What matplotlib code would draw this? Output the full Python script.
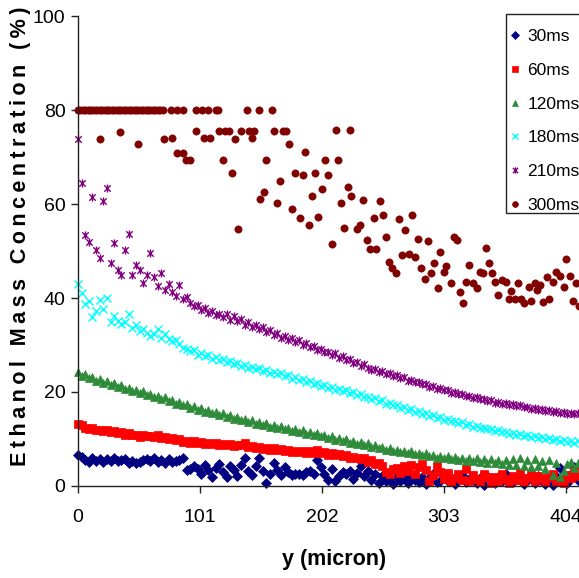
import matplotlib
matplotlib.use('Agg')
import matplotlib.pyplot as plt
import numpy as np
from matplotlib.path import Path
from matplotlib.lines import Line2D
from matplotlib.patches import Rectangle
from matplotlib import font_manager

# x positions (micron) for the dense profiles, one value every 3 micron
y_pos = np.arange(0, 415, 3)

c30 = [6.5, 6.2, 5.4, 5.0, 5.8, 5.2, 5.6, 5.0, 5.7, 5.3,
       5.8, 5.2, 5.5, 5.6, 4.9, 5.3, 4.8, 5.0, 5.4, 5.6,
       5.2, 5.8, 5.1, 5.5, 4.8, 5.6, 5.0, 5.2, 5.4, 5.9,
       3.3, 3.6, 4.2, 3.5, 2.5, 4.5, 3.4, 1.9, 3.8, 4.6,
       3.0, 1.9, 4.2, 3.4, 2.0, 4.4, 5.8, 3.1, 2.2, 4.3,
       5.9, 3.2, 0.6, 2.6, 4.8, 3.4, 2.2, 4.0, 2.9, 2.3,
       2.5, 2.6, 2.2, 3.0, 3.1, 2.4, 5.5, 4.0, 2.5, 1.2,
       3.6, 0.9, 2.0, 2.9, 2.6, 3.1, 1.4, 2.8, 4.2, 2.1,
       3.2, 1.2, 2.4, 0.5, 2.0, 1.1, 1.6, 0.4, 1.8, 0.9,
       1.7, 0.6, 2.2, 1.3, 0.8, 1.9, 0.4, 1.6, 2.4, 0.7,
       1.1, 2.0, 0.9, 1.5, 0.3, 1.8, 2.3, 0.8, 1.4, 2.1,
       0.6, 1.7, 0.2, 2.0, 1.2, 0.6, 1.9, 0.9, 2.4, 1.3,
       0.7, 1.5, 2.2, 0.3, 1.2, 1.8, 0.5, 2.0, 1.1, 0.4,
       1.6, 0.2, 2.1, 3.8, 1.4, 0.5, 2.6, 4.0, 1.2]

c60 = [13.1, 12.9, 12.4, 12.0, 12.2, 11.8, 11.9, 11.6, 11.9, 11.5,
       11.6, 11.2, 11.4, 10.9, 11.2, 10.7, 10.8, 10.4, 10.9, 10.5,
       10.6, 10.3, 10.7, 10.2, 10.4, 10.0, 10.2, 9.8, 9.9, 9.4,
       9.5, 9.2, 9.5, 9.1, 9.3, 8.9, 9.2, 8.8, 9.0, 8.6,
       8.9, 8.6, 8.8, 8.5, 8.7, 8.6, 9.2, 8.2, 8.4, 8.0,
       8.2, 7.9, 8.1, 7.7, 8.0, 7.6, 7.8, 7.5, 7.7, 7.2,
       7.5, 7.2, 7.4, 7.0, 7.3, 7.0, 7.6, 6.9, 7.1, 6.6,
       6.9, 6.5, 6.7, 6.3, 6.6, 6.0, 6.2, 5.8, 5.6, 5.9,
       5.0, 5.4, 4.6, 4.9, 4.2, 3.0, 2.5, 3.5, 3.8, 2.8,
       4.3, 3.2, 4.5, 2.6, 3.9, 4.6, 3.4, 1.0, 2.3, 4.1,
       3.0, 1.5, 2.8, 0.8, 1.6, 2.5, 1.2, 3.6, 0.9, 2.2,
       1.4, 0.7, 2.6, 1.8, 0.5, 1.9, 1.1, 2.4, 1.5, 0.6,
       2.0, 1.2, 2.7, 0.8, 1.6, 2.3, 1.0, 2.1, 1.7, 0.7,
       1.8, 2.4, 0.9, 1.3, 0.5, 2.2, 1.6, 3.2, 2.0]

c120 = [24.2, 23.4, 23.8, 22.9, 23.2, 22.4, 22.7, 21.9, 22.3, 21.5,
        21.8, 21.0, 21.4, 20.6, 20.9, 20.2, 20.5, 19.7, 20.1, 19.3,
        19.6, 18.9, 19.2, 18.4, 18.8, 18.0, 18.3, 17.5, 17.9, 17.1,
        17.4, 16.6, 16.9, 16.2, 16.6, 15.8, 16.1, 15.4, 15.8, 15.0,
        15.4, 14.7, 15.0, 14.3, 14.6, 13.9, 14.3, 13.6, 13.9, 13.2,
        13.6, 12.9, 13.3, 12.6, 13.0, 12.3, 12.7, 12.0, 12.4, 11.7,
        12.1, 11.4, 11.8, 11.1, 11.5, 10.8, 11.2, 10.5, 10.8, 10.1,
        10.5, 9.8, 10.2, 9.5, 9.9, 9.2, 9.6, 8.9, 9.3, 8.6,
        9.0, 8.3, 8.7, 8.0, 8.3, 7.6, 8.0, 7.4, 7.7, 7.1,
        7.5, 6.9, 7.3, 6.7, 7.0, 6.5, 6.9, 6.3, 6.6, 6.0,
        6.4, 5.9, 6.3, 5.6, 6.2, 5.4, 6.0, 5.3, 5.9, 5.2,
        5.8, 5.0, 5.7, 4.9, 5.6, 4.8, 5.5, 4.6, 5.4, 4.5,
        5.6, 4.4, 5.8, 4.3, 5.5, 3.9, 5.7, 4.2, 5.3, 3.6,
        5.4, 2.2, 4.8, 1.9, 3.2, 4.6, 5.1, 3.8, 4.9]

c180 = [43.0, 41.0, 38.7, 39.4, 36.0, 37.3, 39.5, 37.6, 40.1, 34.8,
        36.2, 35.0, 34.4, 34.8, 36.5, 33.7, 34.2, 33.0, 33.5, 32.6,
        31.9, 32.4, 33.3, 31.5, 32.3, 31.2, 30.8, 31.0, 30.1, 29.4,
        29.1, 28.7, 28.9, 27.9, 28.3, 27.6, 27.9, 27.1, 27.4, 26.7,
        26.9, 26.3, 26.6, 25.9, 26.2, 25.5, 25.7, 25.1, 25.4, 24.8,
        25.0, 24.4, 24.7, 24.0, 24.3, 23.7, 24.0, 23.3, 23.5, 22.8,
        23.1, 22.5, 22.7, 22.1, 22.3, 21.7, 21.9, 21.3, 21.5, 20.9,
        21.1, 20.5, 20.7, 20.1, 20.3, 19.7, 19.9, 19.3, 19.5, 18.9,
        19.0, 18.4, 18.6, 18.0, 18.2, 17.5, 17.7, 17.1, 17.2, 16.6,
        16.8, 16.2, 16.3, 15.7, 15.9, 15.3, 15.4, 14.9, 15.0, 14.5,
        14.6, 14.1, 14.2, 13.7, 13.8, 13.3, 13.5, 13.0, 13.1, 12.6,
        12.8, 12.3, 12.4, 12.0, 12.1, 11.7, 11.8, 11.4, 11.5, 11.1,
        11.3, 10.9, 11.0, 10.6, 10.8, 10.4, 10.5, 10.1, 10.3, 9.9,
        10.1, 9.7, 9.9, 9.5, 9.7, 9.3, 9.6, 9.2, 9.5]

c210 = [73.8, 64.5, 53.4, 52.0, 61.5, 50.2, 48.5, 60.6, 63.4, 47.5,
        51.7, 46.0, 44.9, 50.2, 53.6, 44.8, 47.0, 46.0, 43.3, 44.9,
        49.6, 44.4, 42.5, 45.3, 41.8, 42.9, 41.2, 40.4, 42.7, 39.8,
        40.2, 39.0, 38.3, 38.6, 37.4, 37.8, 36.8, 37.2, 36.3, 36.7,
        35.9, 36.6, 35.4, 36.1, 35.0, 35.6, 34.3, 34.9, 33.8, 34.2,
        33.3, 33.9, 32.8, 33.2, 32.1, 32.6, 31.5, 32.0, 31.0, 31.4,
        30.6, 31.0, 30.0, 30.4, 29.5, 29.8, 28.9, 29.2, 28.4, 28.6,
        27.9, 28.2, 27.3, 27.6, 26.7, 27.0, 26.2, 26.4, 25.6, 25.9,
        25.0, 24.6, 24.9, 24.2, 24.5, 23.7, 24.0, 23.3, 23.6, 22.9,
        23.1, 22.4, 22.6, 22.0, 22.2, 21.6, 21.7, 21.1, 21.3, 20.7,
        20.9, 20.3, 20.5, 19.8, 20.0, 19.5, 19.6, 19.1, 19.2, 18.7,
        18.9, 18.4, 18.5, 18.1, 18.2, 17.7, 17.9, 17.5, 17.6, 17.2,
        17.4, 17.0, 17.1, 16.7, 16.8, 16.4, 16.6, 16.2, 16.3, 15.9,
        16.1, 15.7, 15.9, 15.5, 15.7, 15.3, 15.5, 15.2, 15.4]

# 300ms: saturated at 80 near the wall, then scattered
x300 = [0, 2, 4, 6, 8, 10, 12, 14, 16, 18, 20, 22, 24, 26, 28, 30, 32, 34,
        36, 38, 40, 42, 44, 46, 48, 50, 52, 54, 56, 58, 60, 62, 64, 66, 68, 70,
        77, 82, 87, 98, 103, 108, 114, 116, 140, 150, 161,
        18, 34.8, 50, 71.5, 77.6, 82, 87, 89.4, 92.7, 98, 104, 109, 117, 120,
        122, 125, 127.5, 130, 132.7, 135, 141.5, 143.7, 146, 151, 154, 156,
        162, 164.6, 167, 170, 172, 174.6, 177, 180, 184, 186, 188, 191, 194,
        196, 199, 202, 204.5, 207, 210, 213.6, 215, 218, 220, 223.6, 225, 226,
        231, 233.5, 236, 239, 242, 245, 247, 250, 252.6, 255, 257.6, 260, 263,
        266, 268, 271, 274, 276.5, 279, 281.5, 284, 287.6, 290, 292.6, 295,
        298, 300, 303, 305, 309, 311, 313.6, 316, 319, 321.5, 324, 326.8, 330,
        333, 335, 338, 340, 343, 345.5, 348, 351, 354, 356.6, 358.8, 361.6,
        364, 366.5, 369, 373, 375, 378, 380, 382.5, 385, 388, 390, 393.6, 396,
        399, 402, 404, 407, 409.6, 412, 414.6]
c300 = [80] * 47 + [
        73.8, 75.4, 72.8, 73.8, 74.2, 71.0, 71.0, 69.4, 69.4, 75.7, 74.2, 74.2,
        75.7, 69.4, 75.7, 75.7, 66.6, 73.8, 54.8, 75.7, 75.7, 74.2, 75.7, 61.2,
        62.5, 69.4, 75.7, 60.3, 65.0, 75.7, 75.7, 72.8, 58.9, 66.6, 57.0, 66.2,
        71.2, 55.6, 61.7, 66.6, 57.3, 63.2, 69.4, 66.2, 51.5, 75.8, 69.4, 60.3,
        55.0, 63.7, 75.8, 61.8, 54.7, 55.6, 60.9, 52.4, 50.4, 57.0, 50.4, 60.7,
        57.7, 52.9, 47.7, 46.3, 45.3, 56.8, 49.2, 54.4, 49.4, 57.7, 48.8, 52.6,
        46.5, 44.1, 52.2, 45.3, 47.4, 42.1, 49.8, 45.6, 46.8, 43.1, 53.1, 52.4,
        41.3, 39.0, 43.5, 47.0, 43.3, 42.1, 45.6, 45.3, 50.6, 47.4, 45.3, 43.5,
        40.6, 43.8, 43.5, 39.7, 41.6, 39.7, 43.3, 39.7, 38.9, 42.4, 39.4, 43.3,
        41.7, 42.8, 39.1, 44.4, 39.7, 43.5, 45.6, 44.7, 42.4, 48.3, 44.7, 39.4,
        43.3, 38.3]

labels = ['30ms', '60ms', '120ms', '180ms', '210ms', '300ms']
xticks = [0, 101, 202, 303, 404]

names = {f.name for f in font_manager.fontManager.ttflist}
narrow = 'Liberation Sans Narrow' if 'Liberation Sans Narrow' in names else 'Liberation Sans'

# excel style star: an x with a vertical bar
star = Path([(-1, -1), (1, 1), (-1, 1), (1, -1), (0, -1.25), (0, 1.25)],
            [Path.MOVETO, Path.LINETO, Path.MOVETO, Path.LINETO, Path.MOVETO, Path.LINETO])

styles = [
    dict(marker='D', ms=4.6, mfc='#000080', mec='#000080', mew=0.5),
    dict(marker='s', ms=5.2, mfc='#ff0000', mec='#ff0000', mew=0.5),
    dict(marker='^', ms=5.6, mfc='#2e8b3a', mec='#2e8b3a', mew=0.5),
    dict(marker='x', ms=5.4, mfc='none', mec='#00ffff', mew=1.0),
    dict(marker=star, ms=5.8, mfc='none', mec='#800080', mew=1.0),
    dict(marker='o', ms=5.2, mfc='#800000', mec='#800000', mew=0.5),
]

fig = plt.figure(figsize=(5.79, 5.78), dpi=100)
ax = fig.add_axes([78 / 579, 92.3 / 578, 501 / 579, 469.2 / 578])

series = [(y_pos, c30), (y_pos, c60), (y_pos, c120), (y_pos, c180), (y_pos, c210), (x300, c300)]
for (xs, ys), st in zip(series, styles):
    ax.plot(xs, ys, linestyle='none', clip_on=False, **st)

ax.set_xlim(0, 414.8)
ax.set_ylim(0, 100)
ax.set_xticks(xticks)
ax.set_yticks([0, 20, 40, 60, 80, 100])
for s in ['top', 'right']:
    ax.spines[s].set_visible(False)
for s in ['left', 'bottom']:
    ax.spines[s].set_linewidth(1.0)
    ax.spines[s].set_color('#222222')
ax.tick_params(axis='both', direction='out', length=5, width=1, color='#222222')
ax.tick_params(axis='y', pad=4)
ax.tick_params(axis='x', pad=12)
for lab in ax.get_xticklabels() + ax.get_yticklabels():
    lab.set_fontfamily(narrow)
    lab.set_fontsize(14)

ylab = '\u2009'.join('Ethanol') + '\u2009\u2009 ' + '\u2009'.join('Mass') + '\u2009\u2009 ' + \
    '\u2009'.join('Concentration') + '\u2009\u2009 ' + '\u2009'.join('(%)')
fig.text(21 / 579, 1 - 236 / 578, ylab, rotation=90, ha='center', va='center',
         fontsize=15.6, fontweight='bold', family=['Liberation Sans', 'DejaVu Sans'])
fig.text(334 / 579, 1 - 560 / 578, 'y (micron)', ha='center', va='center',
         fontsize=15.5, fontweight='bold', family=narrow)

# legend box drawn by hand so that it can run off the right edge like the original
box = Rectangle((506 / 579, 1 - 213 / 578), 100 / 579, 199 / 578,
                transform=fig.transFigure, facecolor='white',
                edgecolor='#222222', linewidth=1.0, zorder=4, clip_on=False)
ax.add_patch(box)
handles = [Line2D([], [], linestyle='none', **st) for st in styles]
leg = ax.legend(handles, labels, loc='upper left', bbox_to_anchor=(510 / 579, 1 - 29 / 578),
                bbox_transform=fig.transFigure, frameon=False, borderpad=0,
                borderaxespad=0, labelspacing=1.07, handlelength=0.6,
                handletextpad=0.4, markerscale=0.8,
                prop={'family': 'Liberation Sans', 'size': 12.5})
leg.set_zorder(5)

fig.savefig('out.png', dpi=100)
